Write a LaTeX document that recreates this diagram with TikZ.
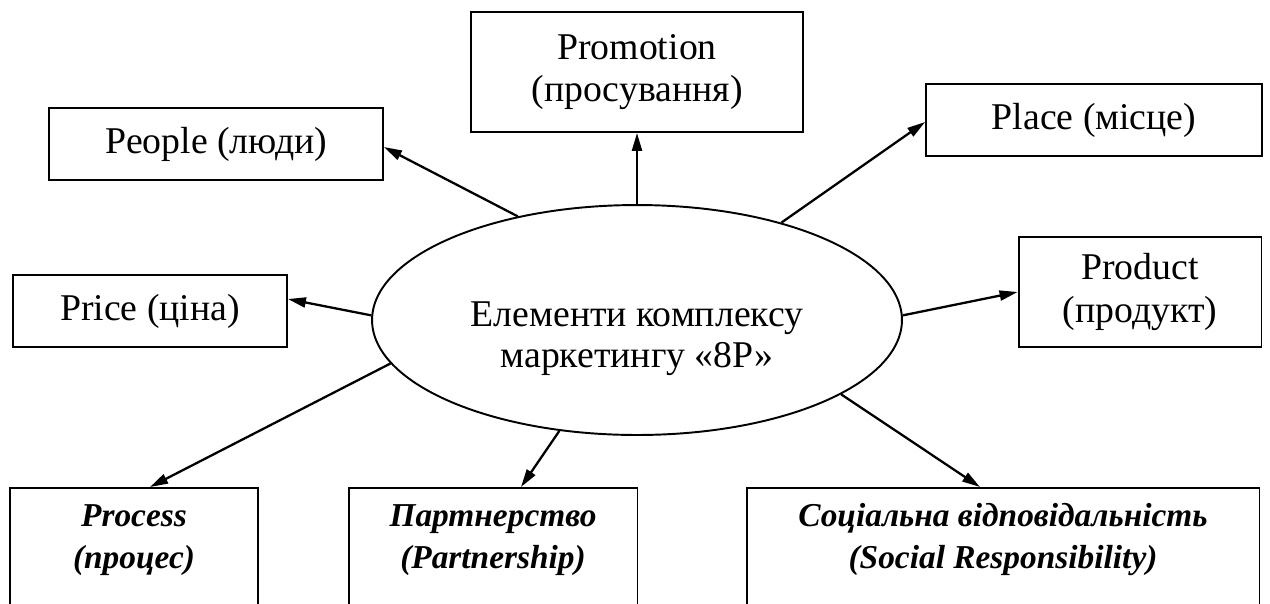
\documentclass[tikz,border=0pt]{standalone}
\usepackage{fontspec}
\setmainfont{Liberation Serif}
\usetikzlibrary{arrows.meta,shapes.geometric,calc}
\newcommand{\lowtext}[2]{\parbox[c][2.3cm][t]{#1}{\centering\rule{0pt}{20pt}#2}}
\begin{document}
\begin{tikzpicture}[
  x=0.02cm, y=-0.02cm,
  font=\fontsize{21.5}{24.4}\selectfont,
  box/.style={draw, line width=1.1pt, align=center, inner sep=2pt},
  lowbox/.style={box, anchor=north, font=\fontsize{19}{23.8}\selectfont\bfseries\itshape},
  arrow/.style={-{Triangle[length=0.36cm,width=0.2cm]}, line width=1.3pt}
]
\clip (0,0) rectangle (1270,603);
\useasboundingbox (0,0) rectangle (1270,603);
\node[draw, ellipse, line width=1.1pt, minimum width=10.6cm, minimum height=4.6cm, inner sep=0pt, align=center,
  font=\fontsize{21.5}{23}\selectfont] (core) at (637,320) {\rule{0pt}{35.5pt}Елементи комплексу\\маркетингу «8Р»};

\node[box, minimum width=6.64cm, minimum height=2.4cm] (promotion) at (637,72) {Promotion\\(просування)};
\node[box, minimum width=6.68cm, minimum height=1.44cm] (people) at (216,144) {People (люди)};
\node[box, minimum width=6.72cm, minimum height=1.44cm] (place) at (1094,120) {Place (місце)};
\node[box, minimum width=5.48cm, minimum height=1.44cm] (price) at (150,311) {Price (ціна)};
\node[box, minimum width=4.86cm, minimum height=2.2cm] (product) at (1140,292) {Product\\(продукт)};
\node[lowbox, minimum width=4.96cm] (process) at (134,487) {\lowtext{4.6cm}{Process\\(процес)}};
\node[lowbox, minimum width=5.78cm] (partner) at (493,487) {\lowtext{5.4cm}{Партнерство\\(Partnership)}};
\node[lowbox, minimum width=10.26cm] (social) at (1003,487) {\lowtext{9.9cm}{Соціальна відповідальність\\(Social Responsibility)}};

\draw[arrow] (core.139.5) -- ([yshift=-0.06cm]people.east);
\draw[arrow] (core.north) -- (promotion.south);
\draw[arrow] (core.34) -- ([yshift=-0.04cm]place.west);
\draw[arrow] (core.179) -- ([yshift=0.24cm]price.east);
\draw[arrow] (core.1) -- (product.west);
\draw[arrow] (core.190) -- ($(process.north)+(16,0)$);
\draw[arrow] (core.235) -- ($(partner.north)+(28,0)$);
\draw[arrow] (core.340) -- ($(social.north)+(-23,0)$);
\end{tikzpicture}
\end{document}
